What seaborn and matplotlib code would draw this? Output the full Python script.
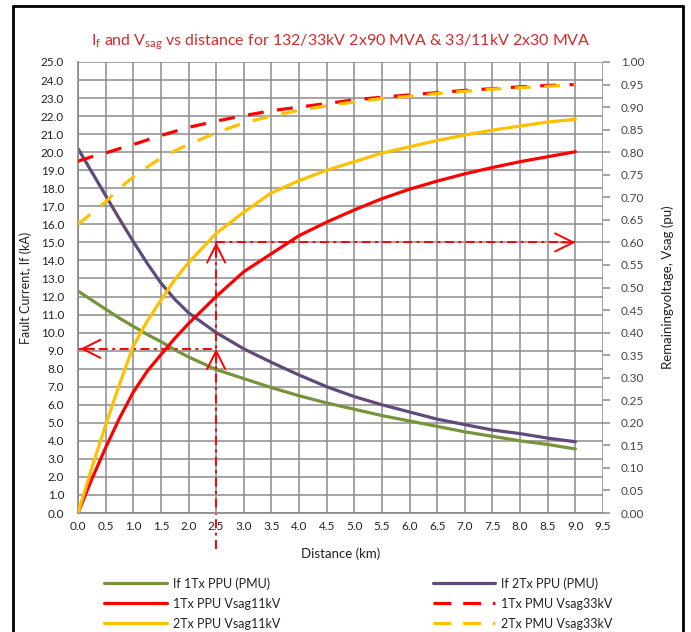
import matplotlib
matplotlib.use("Agg")
import matplotlib.pyplot as plt
from matplotlib.lines import Line2D
import pandas as pd
import seaborn as sns

# distance along the feeder (km)
distance = [0, 0.25, 0.5, 0.75, 1.0, 1.25, 1.5, 1.75, 2.0, 2.5, 3.0, 3.5, 4.0, 4.5,
            5.0, 5.5, 6.0, 6.5, 7.0, 7.5, 8.0, 8.5, 9.0]

# fault current (kA), left axis
if_1tx = [12.3, 11.8, 11.3, 10.8, 10.35, 9.9, 9.5, 9.05, 8.65, 7.95, 7.45, 6.95, 6.5, 6.1,
          5.75, 5.4, 5.1, 4.8, 4.5, 4.25, 4.0, 3.8, 3.55]
if_2tx = [20.2, 18.9, 17.6, 16.3, 15.05, 13.85, 12.75, 11.85, 11.1, 10.0, 9.1, 8.35, 7.65, 7.0,
          6.45, 6.0, 5.6, 5.2, 4.9, 4.6, 4.4, 4.15, 3.95]

# remaining voltage (pu), right axis
v11_1tx = [0, 0.075, 0.145, 0.21, 0.268, 0.314, 0.351, 0.387, 0.42, 0.48, 0.535, 0.575, 0.615, 0.645,
           0.672, 0.697, 0.718, 0.736, 0.752, 0.766, 0.779, 0.79, 0.801]
v11_2tx = [0, 0.1, 0.195, 0.285, 0.37, 0.425, 0.472, 0.517, 0.555, 0.62, 0.667, 0.71, 0.737, 0.76,
           0.779, 0.798, 0.812, 0.826, 0.838, 0.849, 0.858, 0.867, 0.873]
v33_1tx = [0.78, 0.79, 0.798, 0.808, 0.817, 0.827, 0.837, 0.846, 0.855, 0.869, 0.881, 0.892, 0.9, 0.908,
           0.916, 0.922, 0.927, 0.932, 0.937, 0.941, 0.945, 0.948, 0.95]
v33_2tx = [0.64, 0.665, 0.69, 0.72, 0.745, 0.767, 0.787, 0.803, 0.817, 0.843, 0.865, 0.88, 0.893, 0.903,
           0.911, 0.919, 0.924, 0.93, 0.935, 0.94, 0.943, 0.946, 0.95]

labels = ['If 1Tx PPU (PMU)', 'If 2Tx PPU (PMU)', '1Tx PPU Vsag11kV',
          '1Tx PMU Vsag33kV', '2Tx PPU Vsag11kV', '2Tx PMU Vsag33kV']

# reading marked on the chart
d_mark = 2.5
if_mark = 9.1
v_mark = 0.6

df = pd.DataFrame({'d': distance, 'if1': if_1tx, 'if2': if_2tx,
                   'v11_1': v11_1tx, 'v11_2': v11_2tx,
                   'v33_1': v33_1tx, 'v33_2': v33_2tx})

sns.set_theme(style='white')
plt.rcParams['font.family'] = ['Lato', 'DejaVu Sans']
plt.rcParams['mathtext.default'] = 'regular'
plt.rcParams['mathtext.fontset'] = 'custom'
plt.rcParams['mathtext.rm'] = 'Lato'

GREEN = '#77933c'
PURPLE = '#604a7b'
RED = '#ff0000'
ORANGE = '#ffc000'
GRID = '#8c8c8c'

fig = plt.figure(figsize=(6.91, 6.32), dpi=100)
ax = fig.add_axes([78 / 691, 1 - 513 / 632, 525 / 691, 451 / 632])
ax2 = ax.twinx()

lw = 2.3
dash = (0, (5.0, 4.2))
sns.lineplot(data=df, x='d', y='if1', ax=ax, color=GREEN, lw=lw)
sns.lineplot(data=df, x='d', y='if2', ax=ax, color=PURPLE, lw=lw)
sns.lineplot(data=df, x='d', y='v11_1', ax=ax2, color=RED, lw=lw)
sns.lineplot(data=df, x='d', y='v11_2', ax=ax2, color=ORANGE, lw=lw)
sns.lineplot(data=df, x='d', y='v33_1', ax=ax2, color=RED, lw=lw, linestyle=dash)
sns.lineplot(data=df, x='d', y='v33_2', ax=ax2, color=ORANGE, lw=lw, linestyle=dash)

ax.set_xlim(0, 9.5)
ax.set_ylim(0, 25)
ax2.set_ylim(0, 1.0)
ax.set_xticks([i * 0.5 for i in range(20)])
ax.set_yticks(range(26))
ax2.set_yticks([i * 0.05 for i in range(21)])
ax.set_xticklabels([f'{i * 0.5:.1f}' for i in range(20)], fontsize=8.5, color='#222222')
ax.set_yticklabels([f'{i:.1f}' for i in range(26)], fontsize=8.5, color='#222222')
ax2.set_yticklabels([f'{i * 0.05:.2f}' for i in range(21)], fontsize=8.5, color='#444444')

ax.grid(True, color=GRID, lw=1.1)
ax.set_axisbelow(True)
for sp in ['top', 'right']:
    ax.spines[sp].set_visible(False)
for sp in ['top', 'right', 'left', 'bottom']:
    ax2.spines[sp].set_visible(False)
ax.spines['left'].set_color(GRID)
ax.spines['bottom'].set_color(GRID)
ax.tick_params(axis='both', length=0)
ax.tick_params(axis='y', pad=10)
ax.tick_params(axis='x', pad=6)
ax2.tick_params(axis='y', length=5, color=GRID, width=1.1, pad=8)

ax.set_xlabel('Distance (km)', fontsize=9.5, color='#222222', labelpad=11)
ax.set_ylabel('Fault Current, If (kA)', fontsize=9, color='#222222', labelpad=6)
ax2.set_ylabel('Remainingvoltage, Vsag (pu)', fontsize=9.5, color='#222222', labelpad=12)

# markers for the reading at 2.5 km
dd = (0, (4.6, 2.3, 1.5, 2.3))
ax.plot([0, d_mark], [if_mark, if_mark], color=RED, lw=1.4, linestyle=dd)
ax.plot([d_mark, d_mark], [-2.0, v_mark * 25], color=RED, lw=1.4, linestyle=dd, clip_on=False)
ax2.plot([d_mark, 9.0], [v_mark, v_mark], color=RED, lw=1.4, linestyle=dd)
head = dict(arrowstyle='->,head_length=1.3,head_width=0.65', color=RED, lw=1.4,
            shrinkA=0, shrinkB=0, mutation_scale=10)
ax.annotate('', xy=(0.04, if_mark), xytext=(10, 0), textcoords='offset points', arrowprops=head)
ax2.annotate('', xy=(9.0, v_mark), xytext=(-10, 0), textcoords='offset points', arrowprops=head)
ax.annotate('', xy=(d_mark, v_mark * 25), xytext=(0, -10), textcoords='offset points', arrowprops=head)
ax.annotate('', xy=(d_mark, if_mark), xytext=(0, -10), textcoords='offset points', arrowprops=head)

fig.text(0.4935, 1 - 42 / 632,
         r'I$_f$ and V$_{sag}$ vs distance for 132/33kV 2x90 MVA & 33/11kV 2x30 MVA',
         ha='center', va='center', fontsize=11.5, color='#d42a2a')

ldash = (0, (5.6, 3.7))
handles = [Line2D([], [], color=GREEN, lw=lw), Line2D([], [], color=RED, lw=lw),
           Line2D([], [], color=ORANGE, lw=lw), Line2D([], [], color=PURPLE, lw=lw),
           Line2D([], [], color=RED, lw=lw, linestyle=ldash),
           Line2D([], [], color=ORANGE, lw=lw, linestyle=ldash)]
leg_labels = [labels[0], labels[2], labels[4], labels[1], labels[3], labels[5]]
fig.legend(handles, leg_labels, ncol=2, loc='upper left',
           bbox_to_anchor=(104 / 691, 1 - 577 / 632), frameon=False, fontsize=9,
           handlelength=5.0, handletextpad=0.5, columnspacing=12.2, labelspacing=0.65,
           borderpad=0, borderaxespad=0, labelcolor='#222222')

# chart border
for xs, ys in [([13 / 691, 13 / 691], [0, 1 - 6 / 632]),
               ([13 / 691, 683 / 691], [1 - 6 / 632, 1 - 6 / 632]),
               ([683 / 691, 683 / 691], [1 - 6 / 632, 0])]:
    fig.add_artist(Line2D(xs, ys, color='black', lw=2))

fig.savefig('out.png', dpi=100)
